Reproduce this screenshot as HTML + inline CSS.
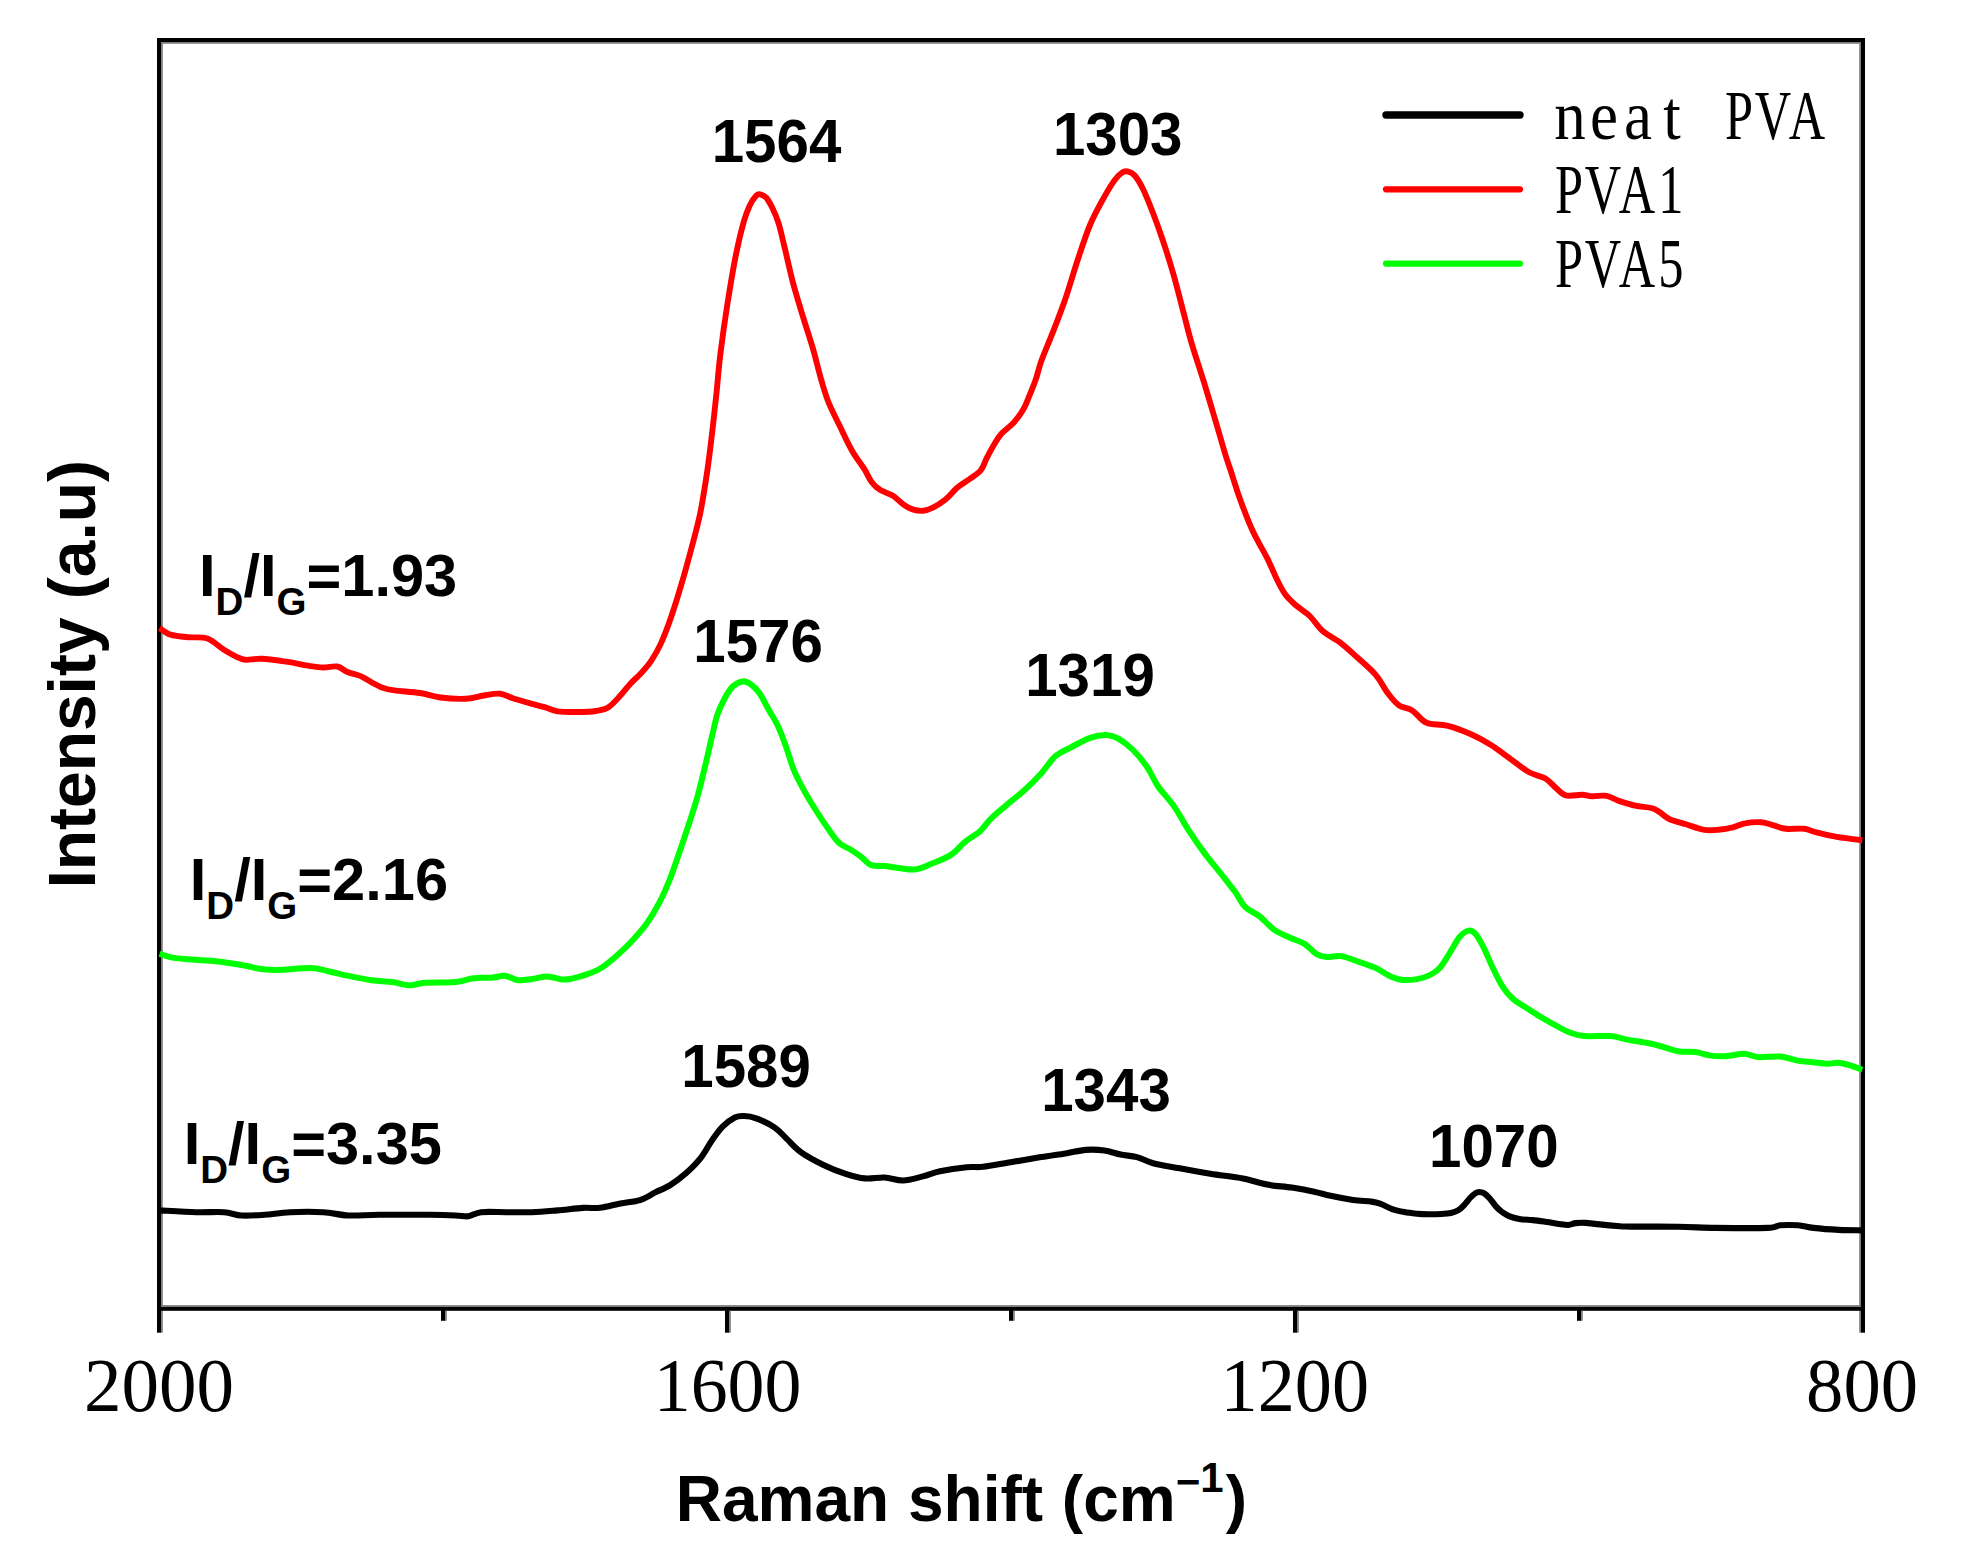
<!DOCTYPE html>
<html lang="en"><head><meta charset="utf-8"><title>Raman spectra</title>
<style>
html,body{margin:0;padding:0;background:#fff;}
body{width:1963px;height:1568px;overflow:hidden;}
svg{display:block;}
.sb{font-family:"Liberation Sans",Arial,Helvetica,sans-serif;font-weight:bold;fill:#000;}
.sr{font-family:"Liberation Serif","Times New Roman",serif;fill:#000;}
</style></head><body>
<svg width="1963" height="1568" viewBox="0 0 1963 1568">
<rect x="0" y="0" width="1963" height="1568" fill="#ffffff"/>
<g>
<rect x="161.0" y="38.0" width="1.8" height="1273.0" fill="#7e7e7e"/>
<rect x="1859.2" y="38.0" width="1.8" height="1294.7" fill="#7e7e7e"/>
<rect x="157.0" y="42.0" width="1708.0" height="1.8" fill="#7e7e7e"/>
<rect x="157.0" y="1305.1" width="1708.0" height="1.9" fill="#7e7e7e"/>
<rect x="161.0" y="1311.0" width="1.8" height="21.7" fill="#7e7e7e"/>
<rect x="729.0" y="1311.0" width="1.8" height="21.7" fill="#7e7e7e"/>
<rect x="1297.0" y="1311.0" width="1.8" height="21.7" fill="#7e7e7e"/>
<rect x="445.0" y="1311.0" width="1.8" height="9.8" fill="#7e7e7e"/>
<rect x="1013.0" y="1311.0" width="1.8" height="9.8" fill="#7e7e7e"/>
<rect x="1581.0" y="1311.0" width="1.8" height="9.8" fill="#7e7e7e"/>
<rect x="157.0" y="38.0" width="4.0" height="1294.7" fill="#000"/>
<rect x="1861.0" y="38.0" width="4.0" height="1294.7" fill="#000"/>
<rect x="157.0" y="38.0" width="1708.0" height="4.0" fill="#000"/>
<rect x="157.0" y="1307.0" width="1708.0" height="3.8" fill="#000"/>
<rect x="725.0" y="1310.0" width="4.0" height="22.7" fill="#000"/>
<rect x="1293.0" y="1310.0" width="4.0" height="22.7" fill="#000"/>
<rect x="441.0" y="1310.0" width="4.0" height="10.8" fill="#000"/>
<rect x="1009.0" y="1310.0" width="4.0" height="10.8" fill="#000"/>
<rect x="1577.0" y="1310.0" width="4.0" height="10.8" fill="#000"/>
</g>
<g fill="none" stroke-linecap="butt" stroke-linejoin="round">
<path stroke="#ff0000" stroke-width="5.9" d="M159.5,628.0C161.3,629.1 165.6,633.1 170.4,634.6C175.2,636.1 182.0,636.6 188.2,637.2C194.3,637.9 201.4,636.4 207.3,638.5C213.2,640.6 219.0,646.7 223.9,649.7C228.8,652.8 233.0,655.1 236.6,656.8C240.2,658.5 241.3,659.5 245.5,659.8C249.7,660.1 255.0,658.4 262.0,658.8C269.0,659.1 279.8,660.8 287.5,661.9C295.2,663.0 302.1,664.8 308.0,665.7C313.9,666.6 318.3,667.4 323.2,667.5C328.1,667.6 333.2,665.8 337.2,666.5C341.2,667.2 343.6,670.4 347.4,672.0C351.2,673.6 356.1,674.2 360.1,675.9C364.1,677.6 368.0,680.4 371.6,682.3C375.2,684.2 378.0,686.0 381.8,687.4C385.6,688.8 388.1,689.5 394.5,690.4C400.9,691.3 412.4,691.8 420.0,693.0C427.6,694.2 432.8,696.5 440.4,697.5C448.0,698.5 458.6,699.1 465.8,698.8C473.0,698.5 478.0,696.4 483.7,695.5C489.4,694.6 495.1,693.2 500.2,693.7C505.3,694.2 508.9,697.1 514.2,698.8C519.5,700.5 527.0,702.5 532.1,703.9C537.2,705.3 540.6,706.0 544.8,707.2C549.0,708.4 552.0,710.5 557.5,711.3C563.0,712.1 571.5,712.0 577.9,712.0C584.3,712.0 590.6,711.8 595.7,711.0C600.8,710.2 604.4,709.8 608.5,707.2C612.6,704.6 616.7,699.5 620.4,695.5C624.1,691.5 627.2,687.2 630.6,683.5C634.0,679.8 637.4,677.2 640.8,673.5C644.2,669.8 647.6,666.3 651.0,661.2C654.4,656.1 657.8,650.4 661.2,642.9C664.6,635.4 668.0,626.2 671.4,616.3C674.8,606.4 678.2,595.3 681.6,583.7C685.0,572.1 688.7,558.5 691.8,546.9C694.9,535.3 697.6,525.6 700.0,514.3C702.4,502.9 704.2,491.1 706.1,478.8C708.0,466.6 709.5,454.8 711.2,440.8C712.9,426.8 714.8,409.5 716.3,395.0C717.8,380.5 718.5,369.2 720.4,353.9C722.3,338.5 725.0,319.2 727.6,302.9C730.2,286.6 733.0,269.5 735.7,255.9C738.4,242.3 741.5,229.7 743.9,221.2C746.3,212.7 748.0,209.2 750.0,204.9C752.0,200.7 754.4,197.5 756.1,195.7C757.8,193.9 758.5,194.0 760.2,194.3C761.9,194.7 764.3,195.5 766.3,197.8C768.3,200.1 770.3,203.8 772.4,208.0C774.5,212.2 776.5,216.7 778.6,223.3C780.7,229.9 782.3,238.0 784.7,247.8C787.1,257.6 789.8,270.8 792.9,282.4C796.0,293.9 799.7,305.9 803.1,317.1C806.5,328.3 810.2,339.2 813.3,349.8C816.3,360.4 818.8,371.6 821.4,380.4C824.0,389.2 825.5,394.8 828.6,402.5C831.7,410.2 836.1,418.4 840.0,426.5C843.9,434.6 848.1,443.8 852.2,450.9C856.3,458.0 861.1,464.0 864.4,469.2C867.7,474.4 869.1,478.7 871.8,482.2C874.4,485.7 876.8,487.8 880.3,490.0C883.8,492.2 888.7,493.1 892.6,495.5C896.5,497.9 900.2,502.3 903.6,504.7C907.0,507.1 910.0,508.6 913.3,509.6C916.5,510.6 919.8,511.1 923.1,510.8C926.4,510.5 929.2,509.5 932.9,507.7C936.6,505.9 941.0,503.1 945.1,499.8C949.2,496.5 953.3,491.1 957.4,487.6C961.5,484.1 965.7,481.9 969.6,479.0C973.5,476.1 977.8,474.0 980.6,470.5C983.5,467.0 984.5,462.5 986.7,458.2C988.9,453.9 991.5,448.9 994.0,444.8C996.5,440.7 998.1,437.5 1001.4,433.8C1004.7,430.1 1009.9,426.9 1013.6,422.8C1017.3,418.7 1021.0,413.4 1023.4,409.3C1025.8,405.2 1026.3,403.2 1028.3,398.3C1030.3,393.4 1033.4,386.2 1035.6,380.0C1037.8,373.8 1038.4,369.1 1041.3,361.0C1044.2,352.9 1049.1,341.9 1053.1,331.6C1057.1,321.3 1061.2,310.9 1065.3,299.0C1069.4,287.1 1073.5,272.4 1077.6,260.2C1081.7,247.9 1085.7,235.4 1089.8,225.5C1093.9,215.6 1097.9,208.5 1102.0,201.0C1106.1,193.5 1110.9,185.4 1114.3,180.6C1117.7,175.8 1120.2,173.9 1122.4,172.4C1124.6,170.9 1125.5,170.9 1127.6,171.4C1129.6,171.9 1132.2,172.6 1134.7,175.5C1137.2,178.4 1139.8,182.5 1142.9,188.8C1146.0,195.1 1149.7,204.5 1153.1,213.3C1156.5,222.1 1159.9,231.6 1163.3,241.8C1166.7,252.0 1170.1,262.6 1173.5,274.5C1176.9,286.4 1180.7,301.7 1183.7,313.3C1186.8,324.9 1188.4,332.3 1191.8,343.9C1195.2,355.5 1200.0,369.4 1204.1,382.7C1208.2,396.0 1212.7,411.4 1216.3,423.5C1219.9,435.6 1223.1,447.2 1225.5,455.0C1227.9,462.8 1228.0,462.6 1230.6,470.3C1233.1,478.0 1237.0,490.9 1240.8,501.2C1244.5,511.4 1248.7,522.3 1253.1,531.8C1257.5,541.3 1263.2,550.2 1267.3,558.4C1271.4,566.6 1274.5,574.7 1277.6,580.8C1280.7,586.9 1282.7,591.0 1285.7,595.1C1288.8,599.2 1291.8,601.7 1295.9,605.3C1300.0,608.9 1305.8,612.2 1310.2,616.5C1314.6,620.8 1317.3,626.4 1322.4,630.8C1327.5,635.2 1335.0,638.7 1340.8,643.1C1346.6,647.5 1351.3,652.0 1357.1,657.3C1362.9,662.6 1370.4,668.7 1375.5,674.7C1380.6,680.7 1383.9,688.0 1387.8,693.1C1391.7,698.2 1394.9,702.4 1399.0,705.3C1403.1,708.2 1407.6,707.5 1412.2,710.4C1416.8,713.3 1420.7,720.2 1426.5,722.7C1432.3,725.2 1439.5,723.8 1446.9,725.7C1454.3,727.6 1463.7,731.1 1471.0,734.3C1478.3,737.5 1484.3,740.8 1491.0,745.0C1497.7,749.2 1504.7,754.8 1511.0,759.3C1517.3,763.8 1523.4,769.1 1529.1,772.3C1534.8,775.5 1541.0,776.0 1545.4,778.5C1549.8,781.0 1552.2,784.8 1555.6,787.6C1559.0,790.4 1561.4,794.2 1565.8,795.4C1570.2,796.6 1577.7,794.7 1582.1,794.8C1586.5,794.9 1588.2,796.0 1592.3,796.2C1596.4,796.4 1602.1,795.0 1606.5,795.8C1610.9,796.6 1614.0,799.3 1618.8,800.9C1623.6,802.5 1629.7,804.4 1635.1,805.6C1640.5,806.8 1647.3,806.9 1651.4,808.0C1655.5,809.1 1656.5,810.2 1659.5,812.1C1662.5,814.0 1665.3,817.2 1669.7,819.2C1674.1,821.2 1680.2,822.5 1686.0,824.3C1691.8,826.1 1698.9,828.9 1704.3,829.8C1709.7,830.7 1713.8,830.2 1718.6,829.8C1723.4,829.4 1728.5,828.5 1732.9,827.4C1737.3,826.3 1740.3,824.1 1745.1,823.3C1749.8,822.4 1756.7,822.0 1761.4,822.3C1766.2,822.6 1769.5,824.2 1773.6,825.3C1777.7,826.4 1780.7,828.2 1785.8,828.8C1790.9,829.4 1799.1,828.2 1804.2,828.8C1809.3,829.4 1811.0,831.0 1816.4,832.4C1821.8,833.8 1829.2,835.6 1836.8,836.9C1844.4,838.2 1858.0,839.7 1862.3,840.2"/>
<path stroke="#00ff00" stroke-width="6.0" d="M159.5,953.8C162.2,954.5 166.5,956.9 175.5,958.1C184.5,959.3 202.2,959.9 213.7,961.1C225.1,962.3 236.6,964.2 244.2,965.5C251.8,966.8 254.0,968.0 259.5,968.8C265.0,969.5 268.9,970.1 277.4,970.0C285.9,969.9 302.0,967.8 310.5,968.0C319.0,968.2 321.9,970.0 328.3,971.3C334.7,972.6 341.5,974.4 348.7,975.9C355.9,977.4 364.4,979.2 371.6,980.2C378.8,981.2 385.6,981.1 392.0,982.0C398.4,982.9 404.3,985.2 409.8,985.3C415.3,985.4 417.5,983.3 425.1,982.8C432.8,982.2 447.6,982.8 455.7,982.0C463.8,981.2 467.6,978.9 473.5,978.2C479.4,977.5 486.0,978.1 491.3,977.7C496.6,977.3 500.9,975.5 505.3,975.9C509.8,976.3 513.5,979.7 518.0,980.2C522.5,980.7 527.2,979.6 532.1,979.0C537.0,978.4 542.2,976.3 547.3,976.4C552.4,976.5 558.4,979.2 562.6,979.5C566.9,979.8 568.5,979.3 572.8,978.4C577.0,977.5 583.2,975.7 588.1,973.9C593.0,972.1 597.2,970.6 602.0,967.5C606.8,964.4 611.9,960.0 617.0,955.5C622.1,951.0 627.7,945.6 632.7,940.2C637.7,934.8 642.5,929.5 646.9,923.3C651.3,917.1 655.5,910.0 659.2,902.9C663.0,895.8 666.0,888.9 669.4,880.4C672.8,871.9 676.2,861.7 679.6,851.8C683.0,841.9 686.7,830.7 689.8,821.2C692.9,811.7 695.3,804.6 698.0,794.7C700.7,784.8 703.7,771.9 706.1,762.0C708.5,752.1 710.3,743.3 712.2,735.5C714.1,727.7 715.2,721.2 717.3,715.1C719.3,709.0 721.9,703.6 724.5,698.8C727.1,694.0 729.6,689.4 732.7,686.5C735.8,683.6 739.9,681.7 742.9,681.4C745.9,681.1 748.3,682.6 751.0,684.5C753.7,686.4 756.1,688.3 759.2,692.7C762.3,697.1 766.3,705.6 769.4,711.0C772.5,716.4 774.9,719.5 777.6,725.3C780.3,731.1 783.0,738.2 785.7,745.7C788.4,753.2 790.8,762.7 793.9,770.2C797.0,777.7 800.4,783.8 804.1,790.6C807.8,797.4 812.2,804.5 816.3,811.0C820.4,817.5 824.9,824.1 828.6,829.4C832.4,834.7 835.1,839.3 838.8,842.7C842.5,846.1 847.3,847.4 851.0,849.8C854.7,852.2 857.8,854.3 861.2,856.9C864.6,859.5 867.3,863.6 871.4,865.1C875.5,866.6 880.6,865.5 885.7,866.1C890.8,866.7 896.9,868.1 902.0,868.6C907.1,869.1 911.5,870.0 916.3,869.2C921.1,868.5 924.8,866.5 930.6,864.1C936.4,861.7 945.2,858.6 951.0,854.9C956.8,851.1 960.5,845.5 965.3,841.6C970.1,837.7 975.5,835.3 979.8,831.5C984.0,827.7 986.3,823.2 990.8,818.8C995.2,814.4 1000.8,809.9 1006.5,805.1C1012.2,800.3 1019.1,795.1 1024.9,789.8C1030.7,784.5 1036.1,779.1 1041.2,773.5C1046.3,767.9 1050.4,760.5 1055.5,756.1C1060.6,751.7 1066.0,750.0 1071.8,746.9C1077.6,743.8 1084.4,739.8 1090.2,737.8C1096.0,735.8 1101.7,734.9 1106.5,735.1C1111.3,735.3 1114.4,736.3 1118.8,738.8C1123.2,741.3 1128.3,745.2 1133.1,750.0C1137.8,754.8 1143.2,761.3 1147.3,767.3C1151.4,773.2 1153.2,779.2 1157.6,785.7C1162.0,792.2 1168.8,798.8 1173.9,806.1C1179.0,813.4 1183.1,821.8 1188.2,829.6C1193.3,837.4 1199.1,845.8 1204.5,853.1C1209.9,860.4 1215.7,867.0 1220.8,873.5C1225.9,880.0 1231.0,886.2 1235.1,891.8C1239.2,897.4 1241.2,903.0 1245.3,907.1C1249.4,911.2 1254.8,912.5 1259.6,916.3C1264.4,920.0 1268.8,926.0 1273.9,929.6C1279.0,933.2 1285.1,935.4 1290.2,937.8C1295.3,940.2 1300.1,941.2 1304.5,943.9C1308.9,946.6 1313.0,951.9 1316.7,954.1C1320.4,956.3 1322.8,956.8 1326.9,957.1C1331.0,957.4 1335.7,955.2 1341.2,956.1C1346.7,957.0 1354.0,960.2 1359.8,962.2C1365.6,964.2 1371.2,965.9 1376.3,968.3C1381.4,970.7 1386.2,974.5 1390.6,976.4C1395.0,978.3 1398.4,979.4 1402.8,979.9C1407.2,980.4 1412.7,979.9 1417.1,979.1C1421.5,978.4 1425.6,977.2 1429.3,975.4C1433.0,973.6 1436.1,972.0 1439.5,968.3C1442.9,964.6 1446.3,958.3 1449.7,953.0C1453.1,947.7 1456.6,940.4 1459.8,936.7C1463.0,933.0 1466.3,931.0 1469.0,930.6C1471.7,930.2 1473.5,931.6 1476.1,934.6C1478.6,937.6 1481.6,943.5 1484.3,948.9C1487.0,954.3 1489.5,960.9 1492.5,967.2C1495.5,973.5 1499.2,981.3 1502.6,986.6C1506.0,991.9 1509.0,995.4 1512.8,998.8C1516.5,1002.2 1520.7,1004.1 1525.1,1007.0C1529.5,1009.9 1534.2,1013.1 1539.3,1016.1C1544.4,1019.1 1550.5,1022.6 1555.6,1025.3C1560.7,1028.0 1565.2,1030.7 1569.9,1032.5C1574.7,1034.3 1577.3,1035.5 1584.1,1036.1C1590.9,1036.7 1603.5,1035.5 1610.6,1036.1C1617.7,1036.7 1620.1,1038.3 1626.9,1039.6C1633.7,1040.9 1644.1,1042.1 1651.4,1043.7C1658.8,1045.3 1666.2,1048.0 1671.0,1049.3C1675.8,1050.6 1676.1,1051.0 1680.2,1051.5C1684.3,1052.0 1690.4,1051.3 1695.5,1052.0C1700.6,1052.7 1705.8,1054.9 1710.8,1055.6C1715.8,1056.3 1720.0,1056.5 1725.5,1056.2C1731.0,1055.9 1738.7,1053.6 1744.0,1053.7C1749.3,1053.8 1751.6,1056.6 1757.6,1057.1C1763.6,1057.6 1773.4,1055.9 1780.0,1056.5C1786.6,1057.1 1792.0,1059.6 1797.4,1060.6C1802.8,1061.5 1807.5,1061.7 1812.6,1062.2C1817.7,1062.7 1823.7,1063.6 1827.9,1063.7C1832.2,1063.8 1834.5,1062.5 1838.1,1062.7C1841.7,1063.0 1845.3,1064.0 1849.3,1065.2C1853.3,1066.4 1860.1,1069.0 1862.3,1069.8"/>
<path stroke="#000000" stroke-width="6.1" d="M159.5,1210.4C165.6,1210.7 185.1,1211.9 195.8,1212.2C206.5,1212.5 216.2,1211.7 223.9,1212.2C231.6,1212.8 234.9,1215.1 241.7,1215.5C248.5,1215.9 256.5,1215.3 264.6,1214.8C272.7,1214.2 280.3,1212.6 290.1,1212.2C299.9,1211.8 313.4,1211.7 323.2,1212.2C333.0,1212.8 339.4,1215.1 348.7,1215.5C358.0,1215.9 365.6,1214.9 379.2,1214.8C392.8,1214.7 417.4,1214.7 430.2,1214.8C442.9,1214.9 449.3,1215.2 455.7,1215.5C462.1,1215.8 464.2,1216.8 468.4,1216.3C472.6,1215.8 474.7,1212.9 481.1,1212.2C487.5,1211.5 498.1,1212.2 506.6,1212.2C515.1,1212.2 523.6,1212.5 532.1,1212.2C540.6,1211.9 549.0,1211.1 557.5,1210.4C566.0,1209.7 575.9,1208.3 583.0,1207.9C590.1,1207.5 593.8,1208.5 600.0,1207.8C606.2,1207.1 613.7,1204.8 620.4,1203.5C627.1,1202.2 634.2,1201.9 640.0,1200.1C645.8,1198.2 650.2,1195.0 655.3,1192.4C660.4,1189.9 665.5,1188.0 670.6,1184.8C675.7,1181.6 680.8,1177.9 685.9,1173.3C691.0,1168.7 696.9,1162.8 701.2,1157.3C705.5,1151.8 708.3,1145.6 711.9,1140.5C715.5,1135.4 718.8,1130.5 722.6,1126.7C726.4,1122.9 731.2,1119.3 734.8,1117.5C738.4,1115.7 740.4,1115.9 744.0,1116.0C747.6,1116.1 751.1,1116.4 756.2,1118.3C761.3,1120.2 769.5,1124.1 774.6,1127.5C779.7,1130.9 782.5,1134.8 786.8,1138.9C791.1,1143.0 794.5,1147.6 800.6,1151.9C806.7,1156.2 815.9,1161.2 823.5,1164.9C831.1,1168.6 839.5,1171.8 846.4,1174.1C853.3,1176.3 858.4,1177.8 864.8,1178.4C871.2,1179.0 878.2,1177.2 884.6,1177.5C891.0,1177.8 896.6,1180.7 903.0,1180.5C909.4,1180.3 916.7,1177.9 922.9,1176.4C929.1,1174.9 932.7,1172.8 940.0,1171.3C947.3,1169.8 959.6,1168.0 966.8,1167.2C974.0,1166.5 975.8,1167.6 983.1,1166.8C990.4,1166.0 1000.9,1163.8 1010.6,1162.2C1020.3,1160.6 1031.9,1158.6 1041.1,1157.1C1050.3,1155.6 1058.1,1154.6 1065.6,1153.4C1073.1,1152.2 1079.5,1150.4 1086.0,1149.9C1092.5,1149.4 1098.5,1149.7 1104.3,1150.5C1110.1,1151.3 1115.2,1153.5 1120.6,1154.6C1126.0,1155.7 1131.5,1155.7 1136.9,1157.1C1142.3,1158.5 1146.1,1161.3 1153.2,1163.2C1160.3,1165.1 1170.2,1166.5 1179.7,1168.3C1189.2,1170.1 1199.8,1172.1 1210.3,1173.8C1220.8,1175.5 1233.4,1176.7 1242.9,1178.5C1252.4,1180.3 1259.2,1183.1 1267.3,1184.6C1275.4,1186.1 1284.0,1186.4 1291.8,1187.6C1299.6,1188.8 1307.8,1190.3 1314.2,1191.7C1320.7,1193.1 1324.0,1194.4 1330.5,1195.8C1337.0,1197.2 1346.1,1198.9 1352.9,1199.9C1359.7,1200.9 1366.7,1201.0 1371.2,1201.6C1375.7,1202.2 1376.5,1202.3 1380.0,1203.6C1383.5,1204.8 1388.1,1207.7 1392.2,1209.1C1396.3,1210.5 1400.3,1211.3 1404.4,1212.1C1408.5,1212.9 1412.6,1213.3 1416.7,1213.7C1420.8,1214.1 1424.8,1214.2 1428.9,1214.2C1433.0,1214.2 1437.4,1214.2 1441.1,1214.0C1444.8,1213.8 1448.1,1213.6 1450.9,1213.0C1453.8,1212.4 1456.0,1211.7 1458.2,1210.3C1460.5,1208.9 1462.4,1206.9 1464.4,1204.8C1466.5,1202.7 1468.7,1199.4 1470.5,1197.5C1472.3,1195.6 1474.0,1194.1 1475.4,1193.2C1476.8,1192.3 1477.6,1192.0 1479.0,1192.0C1480.4,1192.0 1482.1,1192.1 1483.9,1193.2C1485.7,1194.3 1488.0,1196.5 1490.0,1198.7C1492.0,1200.9 1494.1,1204.4 1496.1,1206.6C1498.1,1208.8 1500.0,1210.5 1502.2,1212.1C1504.5,1213.7 1506.5,1215.2 1509.6,1216.4C1512.7,1217.6 1516.7,1218.6 1520.6,1219.2C1524.5,1219.8 1528.7,1219.7 1532.8,1220.1C1536.9,1220.5 1540.9,1221.1 1545.0,1221.7C1549.1,1222.3 1553.4,1223.2 1557.3,1223.7C1561.2,1224.2 1565.2,1225.1 1568.3,1225.0C1571.3,1224.9 1572.8,1223.4 1575.6,1223.1C1578.4,1222.8 1581.3,1222.7 1585.4,1222.9C1589.5,1223.1 1594.2,1223.9 1600.0,1224.4C1605.8,1225.0 1615.0,1225.8 1620.0,1226.2C1625.0,1226.6 1620.3,1226.5 1630.0,1226.6C1639.7,1226.7 1664.0,1226.6 1678.4,1226.8C1692.8,1227.0 1701.8,1227.7 1716.6,1227.9C1731.4,1228.1 1756.9,1228.3 1767.5,1227.9C1778.1,1227.5 1775.2,1225.7 1780.3,1225.3C1785.4,1224.9 1792.6,1224.9 1798.1,1225.3C1803.6,1225.7 1806.6,1227.1 1813.4,1227.9C1820.2,1228.7 1830.8,1229.5 1838.9,1229.9C1847.1,1230.3 1858.4,1230.3 1862.3,1230.4"/>
</g>
<text class="sr" id="t2000" x="159.0" y="1411.4" font-size="76" text-anchor="middle" textLength="150.1" lengthAdjust="spacingAndGlyphs">2000</text>
<text class="sr" id="t1600" x="727.6" y="1411.4" font-size="76" text-anchor="middle" textLength="147.7" lengthAdjust="spacingAndGlyphs">1600</text>
<text class="sr" id="t1200" x="1294.8" y="1411.4" font-size="76" text-anchor="middle" textLength="148.5" lengthAdjust="spacingAndGlyphs">1200</text>
<text class="sr" id="t800" x="1862.1" y="1411.4" font-size="76" text-anchor="middle" textLength="112.0" lengthAdjust="spacingAndGlyphs">800</text>
<text class="sb" id="xl" x="675.8" y="1521" font-size="64" word-spacing="1">Raman shift (cm<tspan font-size="42" dy="-25.5">−</tspan><tspan font-size="42" dy="-3.2">1</tspan><tspan dy="28.7" dx="2.2">)</tspan></text>
<text class="sb" id="yl" transform="translate(94.6,888.5) rotate(-90)" font-size="67" textLength="428.5" lengthAdjust="spacingAndGlyphs">Intensity (a.u)</text>
<text class="sb" id="p1564" x="776.5" y="161.6" font-size="60.5" text-anchor="middle" textLength="129.6" lengthAdjust="spacingAndGlyphs">1564</text>
<text class="sb" id="p1303" x="1117.7" y="154.6" font-size="60.5" text-anchor="middle" textLength="129.6" lengthAdjust="spacingAndGlyphs">1303</text>
<text class="sb" id="p1576" x="758.1" y="661.5" font-size="60.5" text-anchor="middle" textLength="129.6" lengthAdjust="spacingAndGlyphs">1576</text>
<text class="sb" id="p1319" x="1090.0" y="695.5" font-size="60.5" text-anchor="middle" textLength="129.6" lengthAdjust="spacingAndGlyphs">1319</text>
<text class="sb" id="p1589" x="746.1" y="1087.2" font-size="60.5" text-anchor="middle" textLength="129.6" lengthAdjust="spacingAndGlyphs">1589</text>
<text class="sb" id="p1343" x="1106.0" y="1111.0" font-size="60.5" text-anchor="middle" textLength="129.6" lengthAdjust="spacingAndGlyphs">1343</text>
<text class="sb" id="p1070" x="1493.8" y="1166.6" font-size="60.5" text-anchor="middle" textLength="129.6" lengthAdjust="spacingAndGlyphs">1070</text>
<text class="sb" id="r193" x="199.0" y="596.2" font-size="59.6">I<tspan font-size="38.5" dy="19">D</tspan><tspan dy="-19">/I</tspan><tspan font-size="38.5" dy="19">G</tspan><tspan dy="-19">=1.93</tspan></text>
<text class="sb" id="r216" x="189.8" y="900.3" font-size="59.6">I<tspan font-size="38.5" dy="19">D</tspan><tspan dy="-19">/I</tspan><tspan font-size="38.5" dy="19">G</tspan><tspan dy="-19">=2.16</tspan></text>
<text class="sb" id="r335" x="183.7" y="1163.8" font-size="59.6">I<tspan font-size="38.5" dy="19">D</tspan><tspan dy="-19">/I</tspan><tspan font-size="38.5" dy="19">G</tspan><tspan dy="-19">=3.35</tspan></text>
<g stroke-width="6.2" stroke-linecap="round" fill="none">
<line x1="1386" y1="115" x2="1520" y2="115" stroke="#000" stroke-width="7.4"/>
<line x1="1386" y1="189.3" x2="1520" y2="189.3" stroke="#ff0000"/>
<line x1="1386" y1="263.6" x2="1520" y2="263.6" stroke="#00ff00"/>
</g>
<text class="sr" id="l1a" transform="scale(0.900,1)" x="1744.4 1782.2 1820.0 1857.8" y="139.0" font-size="70" text-anchor="middle">neat</text>
<text class="sr" id="l1b" transform="scale(0.720,1)" x="2415.3 2462.5 2509.7" y="139.0" font-size="70" text-anchor="middle">PVA</text>
<text class="sr" id="l2" transform="scale(0.720,1)" x="2179.2 2226.4 2273.6 2320.8" y="212.8" font-size="70" text-anchor="middle">PVA1</text>
<text class="sr" id="l3" transform="scale(0.720,1)" x="2179.2 2226.4 2273.6 2320.8" y="286.7" font-size="70" text-anchor="middle">PVA5</text>
</svg>
</body></html>
